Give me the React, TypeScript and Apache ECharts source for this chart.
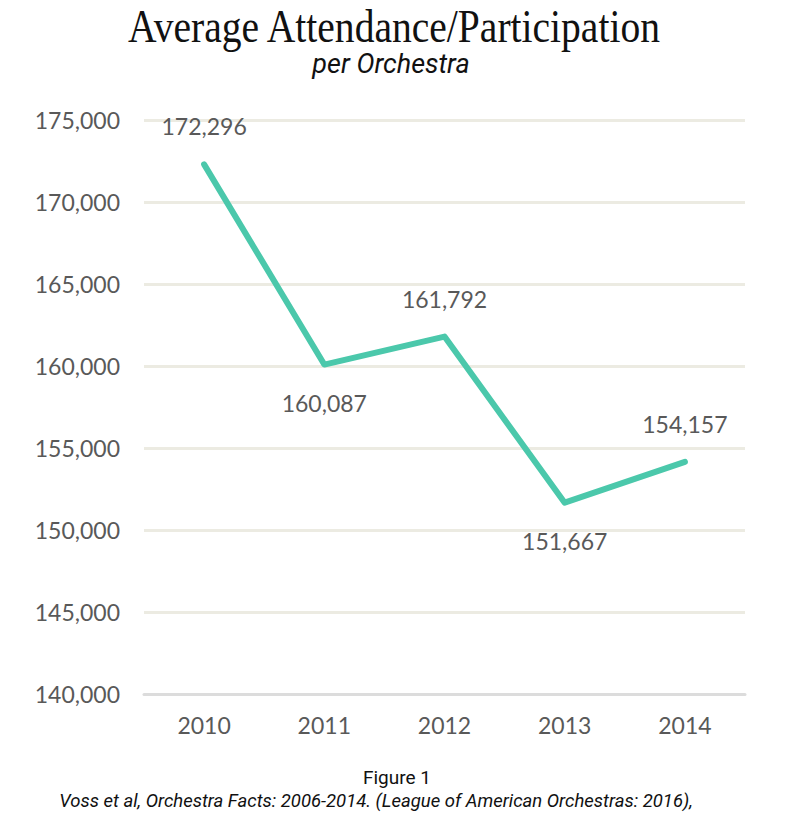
import { useEffect, useRef } from 'react';
import * as echarts from 'echarts';

const years = ['2010', '2011', '2012', '2013', '2014'];
const attendance = [172296, 160087, 161792, 151667, 154157];
// which side of the line each value label sits on
const labelSides = ['top', 'bottom', 'top', 'bottom', 'top'];

const TITLE = 'Average Attendance/Participation';
const SUBTITLE = 'per Orchestra';
const FIGURE = 'Figure 1';
const SOURCE = 'Voss et al, Orchestra Facts: 2006-2014. (League of American Orchestras: 2016),';

const TEXT_GREY = '#595959';
const SANS = 'Lato, "Noto Sans", sans-serif';

export default function App() {
  const chartRef = useRef<HTMLDivElement>(null);

  useEffect(() => {
    if (!chartRef.current) return;
    document.body.style.margin = '0';

    const chart = echarts.init(chartRef.current, null, { renderer: 'svg' });

    const option = {
      animation: false,
      backgroundColor: '#ffffff',
      graphic: [
        {
          type: 'text',
          x: 394,
          y: 26,
          scaleX: 0.86,
          style: {
            text: TITLE,
            fontFamily: '"Liberation Serif", serif',
            fontSize: 46,
            fill: '#111111',
            align: 'center',
            verticalAlign: 'middle',
          },
        },
        {
          type: 'text',
          x: 391,
          y: 64,
          style: {
            text: SUBTITLE,
            fontFamily: 'Roboto, sans-serif',
            fontStyle: 'italic',
            fontSize: 27,
            fill: '#111111',
            align: 'center',
            verticalAlign: 'middle',
          },
        },
        {
          type: 'text',
          x: 397,
          y: 777,
          style: {
            text: FIGURE,
            fontFamily: 'Roboto, sans-serif',
            fontSize: 19,
            fill: '#111111',
            align: 'center',
            verticalAlign: 'middle',
          },
        },
        {
          type: 'text',
          x: 376,
          y: 801,
          style: {
            text: SOURCE,
            fontFamily: 'Roboto, sans-serif',
            fontStyle: 'italic',
            fontSize: 18.5,
            fill: '#111111',
            align: 'center',
            verticalAlign: 'middle',
          },
        },
      ],
      grid: {
        left: 144,
        right: 56,
        top: 120,
        bottom: 128,
        containLabel: false,
      },
      xAxis: {
        type: 'category',
        data: years,
        boundaryGap: true,
        axisLine: { show: true, lineStyle: { color: '#dcdcdc', width: 3 } },
        axisTick: { show: false },
        axisLabel: {
          color: TEXT_GREY,
          fontFamily: SANS,
          fontSize: 23,
          margin: 19,
        },
      },
      yAxis: {
        type: 'value',
        min: 140000,
        max: 175000,
        interval: 5000,
        axisLine: { show: false },
        axisTick: { show: false },
        splitLine: { lineStyle: { color: '#ecebe2', width: 3 } },
        axisLabel: {
          color: TEXT_GREY,
          fontFamily: SANS,
          fontSize: 23,
          margin: 24,
          formatter: (v: number) => v.toLocaleString('en-US'),
        },
      },
      series: [
        {
          type: 'line',
          data: attendance.map((v, i) => ({
            value: v,
            label: { position: labelSides[i] },
          })),
          showSymbol: true,
          symbol: 'circle',
          symbolSize: 1,
          itemStyle: { color: '#4bc8ab' },
          lineStyle: { color: '#4bc8ab', width: 6, cap: 'round', join: 'round' },
          label: {
            show: true,
            distance: 26,
            color: TEXT_GREY,
            fontFamily: SANS,
            fontSize: 23,
            formatter: (p: any) => Number(p.value).toLocaleString('en-US'),
          },
        },
      ],
    };

    chart.setOption(option);

    return () => {
      chart.dispose();
    };
  }, []);

  return <div ref={chartRef} style={{ width: '801px', height: '822px' }} />;
}
